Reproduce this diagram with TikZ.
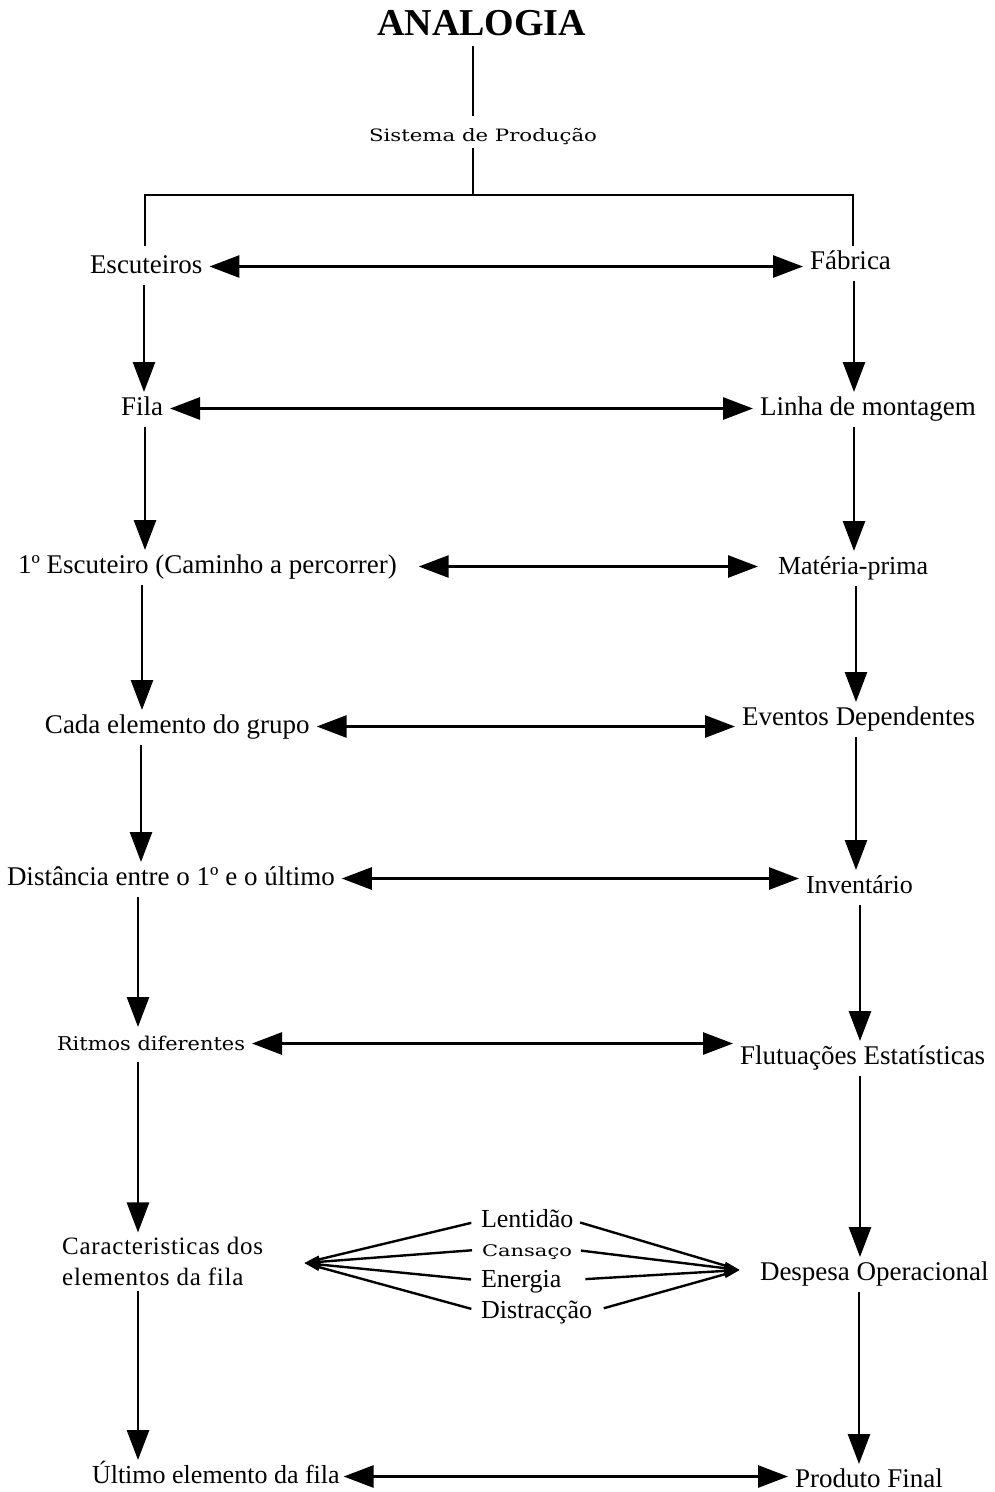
\documentclass[tikz,border=0pt]{standalone}
\usepackage{fontspec}
\usepackage{graphicx}
\setmainfont{Liberation Serif}
\newfontfamily\dvserif{DejaVu Serif}
\newfontfamily\wideD[LetterSpace=3]{Liberation Serif}
\newcommand\wtext[2]{\resizebox{#1}{\height}{\dvserif #2}}
\usetikzlibrary{arrows.meta}
\tikzset{
  lbl/.style={inner sep=0pt, outer sep=0pt, text height=19pt, text depth=6pt, anchor=base west, font=\fontsize{27}{30}\selectfont},
  lbls/.style={lbl, font=\fontsize{26}{30}\selectfont},
  ln/.style={line width=2.8pt, line cap=rect},
  varr/.style={line width=2.8pt, -{Triangle[length=30pt,width=22pt]}, shorten <=6pt, shorten >=4pt},
  harr/.style={line width=2.8pt, {Triangle[length=30pt,width=22pt]}-{Triangle[length=30pt,width=22pt]}, shorten <=7pt, shorten >=7pt},
  fanend/.style={line width=2.4pt, -{Triangle[length=16pt,width=7pt]}},
}
\begin{document}
\begin{tikzpicture}[x=1pt,y=-1pt]
\useasboundingbox (0,0) rectangle (995,1492);
% title
\node[inner sep=0pt, anchor=base west, font=\bfseries\fontsize{38}{40}\selectfont] (title) at (377,35) {ANALOGIA};
\node[lbl, font=\fontsize{17}{20}\selectfont] (sys) at (369,141.7) {\wtext{228pt}{Sistema de Produção}};
\coordinate (j) at (473,195);
\coordinate (jl) at (145,195);
\coordinate (jr) at (853,195);
% left column
\node[lbl] (esc) at (90,273) {Escuteiros};
\node[lbl] (fila) at (121,415) {Fila};
\node[lbl] (esc1) at (18,573) {1º Escuteiro (Caminho a percorrer)};
\node[lbl] (cada) at (45,733) {Cada elemento do grupo};
\node[lbl] (dist) at (7,885) {Distância entre o 1º e o último};
\node[lbl, font=\fontsize{19}{22}\selectfont] (ritm) at (57,1050) {\wtext{188pt}{Ritmos diferentes}};
\node[inner sep=0pt, anchor=base west, align=left, font=\wideD\fontsize{25}{31}\selectfont] (car) at (62,1285) {Caracteristicas dos\\elementos da fila};
\node[lbls] (ult) at (92,1483) {Último elemento da fila};
% right column
\node[lbl] (fab) at (810,269) {Fábrica};
\node[lbl] (linha) at (760,415) {Linha de montagem};
\node[lbls] (mat) at (778,574) {Matéria-prima};
\node[lbl] (even) at (742,725) {Eventos Dependentes};
\node[lbls] (inv) at (806,893) {Inventário};
\node[lbl] (flut) at (740,1064) {Flutuações Estatísticas};
\node[lbl] (desp) at (760,1280) {Despesa Operacional};
\node[lbl] (prod) at (795,1487) {Produto Final};
% fan words
\node[lbls] (lent) at (481,1227) {Lentidão};
\node[lbl, font=\fontsize{16}{19}\selectfont] (cans) at (482,1256) {\wtext{90pt}{Cansaço}};
\node[lbls] (ener) at (481,1287) {Energia};
\node[lbls] (distr) at (481,1318) {Distracção};
\coordinate (fl) at (304,1263);
\coordinate (fr) at (740,1270);
% top tree
\draw[ln, shorten <=12pt, shorten >=8pt] (title.south -| j) -- (sys.north -| j);
\draw[ln, shorten <=2pt] (sys.south -| j) -- (j);
\draw[ln] (jl) -- (jr);
\draw[ln, shorten >=9pt] (jl) -- (esc.north -| jl);
\draw[ln, shorten >=5pt] (jr) -- (fab.north -| jr);
% left vertical arrows
\draw[varr] (esc.south -| 144,0) -- (fila.north -| 144,0);
\draw[varr] (fila.south -| 145,0) -- (esc1.north -| 145,0);
\draw[varr] (esc1.south -| 142,0) -- (cada.north -| 142,0);
\draw[varr] (cada.south -| 141,0) -- (dist.north -| 141,0);
\draw[varr] (dist.south -| 138,0) -- (ritm.north -| 138,0);
\draw[varr] (ritm.south -| 138,0) -- (car.north -| 138,0);
\draw[varr] (car.south -| 138,0) -- (ult.north -| 138,0);
% right vertical arrows
\draw[varr] (fab.south -| 854,0) -- (linha.north -| 854,0);
\draw[varr] (linha.south -| 854,0) -- (mat.north -| 854,0);
\draw[varr] (mat.south -| 856,0) -- (even.north -| 856,0);
\draw[varr] (even.south -| 856,0) -- (inv.north -| 856,0);
\draw[varr] (inv.south -| 860,0) -- (flut.north -| 860,0);
\draw[varr] (flut.south -| 860,0) -- (desp.north -| 860,0);
\draw[varr] (desp.south -| 859,0) -- (prod.north -| 859,0);
% horizontal double arrows
\draw[harr] (esc.east) -- (esc.east -| fab.west);
\draw[harr] (fila.east) -- (fila.east -| linha.west);
\draw[harr, shorten <=22pt, shorten >=20pt] (esc1.east) -- (esc1.east -| mat.west);
\draw[harr] (cada.east) -- (cada.east -| even.west);
\draw[harr] (dist.east) -- (dist.east -| inv.west);
\draw[harr] (ritm.east) -- (ritm.east -| flut.west);
\draw[harr, shorten <=4pt] (ult.east) -- (ult.east -| prod.west);
% fan
\draw[fanend, shorten <=10pt] (lent.west) -- (fl);
\draw[fanend, shorten <=10pt] (cans.west) -- (fl);
\draw[fanend, shorten <=10pt] (ener.west) -- (fl);
\draw[fanend, shorten <=10pt] (distr.west) -- (fl);
\draw[fanend, shorten <=7pt] (lent.east) -- (fr);
\draw[fanend, shorten <=9pt] (cans.east) -- (fr);
\draw[fanend, shorten <=24pt] (ener.east) -- (fr);
\draw[fanend, shorten <=12pt] (distr.east) -- (fr);
\end{tikzpicture}
\end{document}
